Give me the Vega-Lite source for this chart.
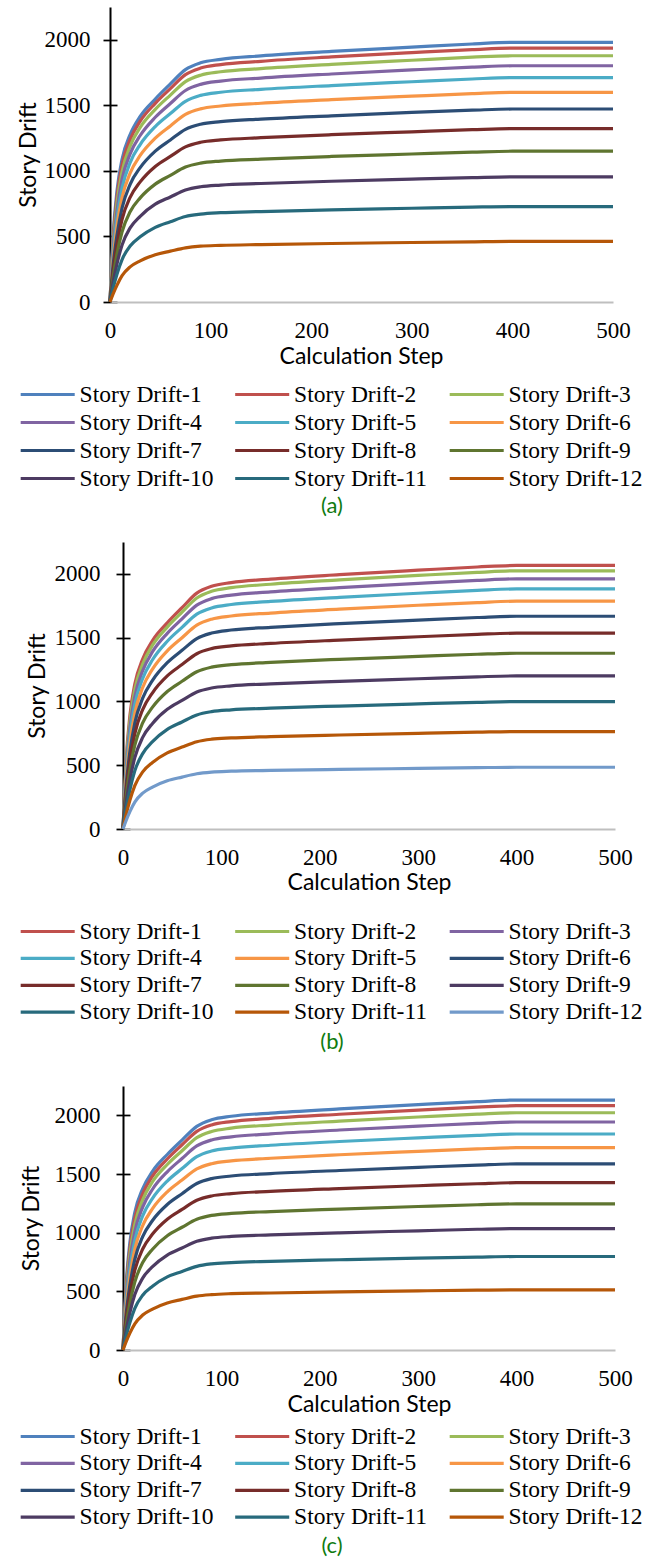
{
"$schema":"https://vega.github.io/schema/vega-lite/v6.json",
"background":"white",
"padding":{"left":16,"top":7,"right":0,"bottom":0},
"columns":1,
"align":"none",
"spacing":25,
"config":{
 "view":{"stroke":null},
 "axis":{"labelFont":"Liberation Serif","labelFontSize":23,"labelColor":"black","titleFont":"Lato","titleFontSize":23,"titleFontWeight":"normal","titleColor":"black","labelFlush":false,"labelOverlap":false},
 "legend":{"columns":3,"direction":"horizontal","symbolType":"M-2.5,0H2.5","symbolSize":467,"symbolStrokeWidth":4,"symbolOffset":14.2,"labelFont":"Liberation Serif","labelFontSize":23.5,"labelColor":"black","labelOffset":19.4,"columnPadding":14.5,"rowPadding":2,"gridAlign":"all","padding":5,"labelLimit":400,"title":null},
 "title":{"font":"Lato","fontSize":22,"fontWeight":"normal","color":"#0f7b0f","orient":"bottom","anchor":"middle","frame":"bounds","baseline":"top"},
 "line":{"interpolate":"monotone","strokeWidth":3.2}
},
"datasets":{
"a":[
{"s":1,"x":0,"y":0},{"s":1,"x":3,"y":495},{"s":1,"x":7,"y":851},{"s":1,"x":12,"y":1089},{"s":1,"x":20,"y":1277},{"s":1,"x":30,"y":1416},{"s":1,"x":45,"y":1548},{"s":1,"x":60,"y":1663},{"s":1,"x":75,"y":1772},{"s":1,"x":90,"y":1824},{"s":1,"x":110,"y":1851},{"s":1,"x":150,"y":1877},{"s":1,"x":220,"y":1911},{"s":1,"x":300,"y":1944},{"s":1,"x":360,"y":1968},{"s":1,"x":400,"y":1980},{"s":1,"x":500,"y":1980},
{"s":2,"x":0,"y":0},{"s":2,"x":3,"y":463},{"s":2,"x":7,"y":806},{"s":2,"x":12,"y":1046},{"s":2,"x":20,"y":1238},{"s":2,"x":30,"y":1379},{"s":2,"x":45,"y":1515},{"s":2,"x":60,"y":1627},{"s":2,"x":75,"y":1734},{"s":2,"x":90,"y":1784},{"s":2,"x":110,"y":1811},{"s":2,"x":150,"y":1836},{"s":2,"x":220,"y":1869},{"s":2,"x":300,"y":1902},{"s":2,"x":360,"y":1925},{"s":2,"x":400,"y":1937},{"s":2,"x":500,"y":1937},
{"s":3,"x":0,"y":0},{"s":3,"x":3,"y":428},{"s":3,"x":7,"y":757},{"s":3,"x":12,"y":993},{"s":3,"x":20,"y":1189},{"s":3,"x":30,"y":1332},{"s":3,"x":45,"y":1469},{"s":3,"x":60,"y":1578},{"s":3,"x":75,"y":1681},{"s":3,"x":90,"y":1730},{"s":3,"x":110,"y":1756},{"s":3,"x":150,"y":1780},{"s":3,"x":220,"y":1812},{"s":3,"x":300,"y":1844},{"s":3,"x":360,"y":1867},{"s":3,"x":400,"y":1878},{"s":3,"x":500,"y":1878},
{"s":4,"x":0,"y":0},{"s":4,"x":3,"y":391},{"s":4,"x":7,"y":701},{"s":4,"x":12,"y":935},{"s":4,"x":20,"y":1130},{"s":4,"x":30,"y":1270},{"s":4,"x":45,"y":1409},{"s":4,"x":60,"y":1514},{"s":4,"x":75,"y":1613},{"s":4,"x":90,"y":1660},{"s":4,"x":110,"y":1685},{"s":4,"x":150,"y":1708},{"s":4,"x":220,"y":1739},{"s":4,"x":300,"y":1770},{"s":4,"x":360,"y":1791},{"s":4,"x":400,"y":1802},{"s":4,"x":500,"y":1802},
{"s":5,"x":0,"y":0},{"s":5,"x":3,"y":352},{"s":5,"x":7,"y":642},{"s":5,"x":12,"y":869},{"s":5,"x":20,"y":1063},{"s":5,"x":30,"y":1201},{"s":5,"x":45,"y":1338},{"s":5,"x":60,"y":1437},{"s":5,"x":75,"y":1531},{"s":5,"x":90,"y":1576},{"s":5,"x":110,"y":1600},{"s":5,"x":150,"y":1622},{"s":5,"x":220,"y":1651},{"s":5,"x":300,"y":1680},{"s":5,"x":360,"y":1701},{"s":5,"x":400,"y":1711},{"s":5,"x":500,"y":1711},
{"s":6,"x":0,"y":0},{"s":6,"x":3,"y":312},{"s":6,"x":7,"y":579},{"s":6,"x":12,"y":796},{"s":6,"x":20,"y":983},{"s":6,"x":30,"y":1118},{"s":6,"x":45,"y":1250},{"s":6,"x":60,"y":1343},{"s":6,"x":75,"y":1431},{"s":6,"x":90,"y":1473},{"s":6,"x":110,"y":1495},{"s":6,"x":150,"y":1516},{"s":6,"x":220,"y":1543},{"s":6,"x":300,"y":1570},{"s":6,"x":360,"y":1589},{"s":6,"x":400,"y":1599},{"s":6,"x":500,"y":1599},
{"s":7,"x":0,"y":0},{"s":7,"x":3,"y":272},{"s":7,"x":7,"y":512},{"s":7,"x":12,"y":717},{"s":7,"x":20,"y":898},{"s":7,"x":30,"y":1025},{"s":7,"x":45,"y":1151},{"s":7,"x":60,"y":1236},{"s":7,"x":75,"y":1317},{"s":7,"x":90,"y":1356},{"s":7,"x":110,"y":1376},{"s":7,"x":150,"y":1395},{"s":7,"x":220,"y":1420},{"s":7,"x":300,"y":1446},{"s":7,"x":360,"y":1463},{"s":7,"x":400,"y":1472},{"s":7,"x":500,"y":1472},
{"s":8,"x":0,"y":0},{"s":8,"x":3,"y":230},{"s":8,"x":7,"y":443},{"s":8,"x":12,"y":631},{"s":8,"x":20,"y":798},{"s":8,"x":30,"y":916},{"s":8,"x":45,"y":1034},{"s":8,"x":60,"y":1110},{"s":8,"x":75,"y":1183},{"s":8,"x":90,"y":1218},{"s":8,"x":110,"y":1236},{"s":8,"x":150,"y":1253},{"s":8,"x":220,"y":1276},{"s":8,"x":300,"y":1298},{"s":8,"x":360,"y":1314},{"s":8,"x":400,"y":1322},{"s":8,"x":500,"y":1322},
{"s":9,"x":0,"y":0},{"s":9,"x":3,"y":187},{"s":9,"x":7,"y":369},{"s":9,"x":12,"y":536},{"s":9,"x":20,"y":688},{"s":9,"x":30,"y":794},{"s":9,"x":45,"y":899},{"s":9,"x":60,"y":966},{"s":9,"x":75,"y":1029},{"s":9,"x":90,"y":1059},{"s":9,"x":110,"y":1075},{"s":9,"x":150,"y":1090},{"s":9,"x":220,"y":1110},{"s":9,"x":300,"y":1129},{"s":9,"x":360,"y":1143},{"s":9,"x":400,"y":1150},{"s":9,"x":500,"y":1150},
{"s":10,"x":0,"y":0},{"s":10,"x":3,"y":145},{"s":10,"x":7,"y":293},{"s":10,"x":12,"y":435},{"s":10,"x":20,"y":565},{"s":10,"x":30,"y":654},{"s":10,"x":45,"y":746},{"s":10,"x":60,"y":801},{"s":10,"x":75,"y":854},{"s":10,"x":90,"y":879},{"s":10,"x":110,"y":892},{"s":10,"x":150,"y":904},{"s":10,"x":220,"y":921},{"s":10,"x":300,"y":937},{"s":10,"x":360,"y":948},{"s":10,"x":400,"y":954},{"s":10,"x":500,"y":954},
{"s":11,"x":0,"y":0},{"s":11,"x":3,"y":103},{"s":11,"x":7,"y":214},{"s":11,"x":12,"y":324},{"s":11,"x":20,"y":427},{"s":11,"x":30,"y":497},{"s":11,"x":45,"y":569},{"s":11,"x":60,"y":612},{"s":11,"x":75,"y":652},{"s":11,"x":90,"y":670},{"s":11,"x":110,"y":681},{"s":11,"x":150,"y":690},{"s":11,"x":220,"y":703},{"s":11,"x":300,"y":715},{"s":11,"x":360,"y":724},{"s":11,"x":400,"y":728},{"s":11,"x":500,"y":728},
{"s":12,"x":0,"y":0},{"s":12,"x":3,"y":60},{"s":12,"x":7,"y":129},{"s":12,"x":12,"y":201},{"s":12,"x":20,"y":268},{"s":12,"x":30,"y":314},{"s":12,"x":45,"y":361},{"s":12,"x":60,"y":388},{"s":12,"x":75,"y":413},{"s":12,"x":90,"y":426},{"s":12,"x":110,"y":432},{"s":12,"x":150,"y":438},{"s":12,"x":220,"y":446},{"s":12,"x":300,"y":454},{"s":12,"x":360,"y":459},{"s":12,"x":400,"y":462},{"s":12,"x":500,"y":462}
],
"b":[
{"s":1,"x":0,"y":0},{"s":1,"x":3,"y":517},{"s":1,"x":7,"y":888},{"s":1,"x":12,"y":1136},{"s":1,"x":20,"y":1333},{"s":1,"x":30,"y":1477},{"s":1,"x":45,"y":1616},{"s":1,"x":60,"y":1735},{"s":1,"x":75,"y":1849},{"s":1,"x":90,"y":1903},{"s":1,"x":110,"y":1932},{"s":1,"x":150,"y":1959},{"s":1,"x":220,"y":1994},{"s":1,"x":300,"y":2029},{"s":1,"x":360,"y":2054},{"s":1,"x":400,"y":2066},{"s":1,"x":500,"y":2066},
{"s":2,"x":0,"y":0},{"s":2,"x":3,"y":484},{"s":2,"x":7,"y":842},{"s":2,"x":12,"y":1093},{"s":2,"x":20,"y":1293},{"s":2,"x":30,"y":1441},{"s":2,"x":45,"y":1583},{"s":2,"x":60,"y":1700},{"s":2,"x":75,"y":1811},{"s":2,"x":90,"y":1864},{"s":2,"x":110,"y":1892},{"s":2,"x":150,"y":1919},{"s":2,"x":220,"y":1953},{"s":2,"x":300,"y":1988},{"s":2,"x":360,"y":2012},{"s":2,"x":400,"y":2024},{"s":2,"x":500,"y":2024},
{"s":3,"x":0,"y":0},{"s":3,"x":3,"y":447},{"s":3,"x":7,"y":790},{"s":3,"x":12,"y":1037},{"s":3,"x":20,"y":1241},{"s":3,"x":30,"y":1390},{"s":3,"x":45,"y":1534},{"s":3,"x":60,"y":1647},{"s":3,"x":75,"y":1755},{"s":3,"x":90,"y":1806},{"s":3,"x":110,"y":1834},{"s":3,"x":150,"y":1859},{"s":3,"x":220,"y":1892},{"s":3,"x":300,"y":1926},{"s":3,"x":360,"y":1949},{"s":3,"x":400,"y":1961},{"s":3,"x":500,"y":1961},
{"s":4,"x":0,"y":0},{"s":4,"x":3,"y":408},{"s":4,"x":7,"y":732},{"s":4,"x":12,"y":977},{"s":4,"x":20,"y":1180},{"s":4,"x":30,"y":1327},{"s":4,"x":45,"y":1472},{"s":4,"x":60,"y":1581},{"s":4,"x":75,"y":1684},{"s":4,"x":90,"y":1733},{"s":4,"x":110,"y":1760},{"s":4,"x":150,"y":1784},{"s":4,"x":220,"y":1816},{"s":4,"x":300,"y":1848},{"s":4,"x":360,"y":1871},{"s":4,"x":400,"y":1882},{"s":4,"x":500,"y":1882},
{"s":5,"x":0,"y":0},{"s":5,"x":3,"y":368},{"s":5,"x":7,"y":670},{"s":5,"x":12,"y":907},{"s":5,"x":20,"y":1109},{"s":5,"x":30,"y":1254},{"s":5,"x":45,"y":1397},{"s":5,"x":60,"y":1500},{"s":5,"x":75,"y":1598},{"s":5,"x":90,"y":1645},{"s":5,"x":110,"y":1670},{"s":5,"x":150,"y":1693},{"s":5,"x":220,"y":1723},{"s":5,"x":300,"y":1754},{"s":5,"x":360,"y":1775},{"s":5,"x":400,"y":1786},{"s":5,"x":500,"y":1786},
{"s":6,"x":0,"y":0},{"s":6,"x":3,"y":325},{"s":6,"x":7,"y":604},{"s":6,"x":12,"y":831},{"s":6,"x":20,"y":1026},{"s":6,"x":30,"y":1166},{"s":6,"x":45,"y":1304},{"s":6,"x":60,"y":1401},{"s":6,"x":75,"y":1493},{"s":6,"x":90,"y":1536},{"s":6,"x":110,"y":1560},{"s":6,"x":150,"y":1581},{"s":6,"x":220,"y":1610},{"s":6,"x":300,"y":1638},{"s":6,"x":360,"y":1658},{"s":6,"x":400,"y":1668},{"s":6,"x":500,"y":1668},
{"s":7,"x":0,"y":0},{"s":7,"x":3,"y":284},{"s":7,"x":7,"y":534},{"s":7,"x":12,"y":748},{"s":7,"x":20,"y":936},{"s":7,"x":30,"y":1068},{"s":7,"x":45,"y":1200},{"s":7,"x":60,"y":1289},{"s":7,"x":75,"y":1374},{"s":7,"x":90,"y":1414},{"s":7,"x":110,"y":1435},{"s":7,"x":150,"y":1455},{"s":7,"x":220,"y":1481},{"s":7,"x":300,"y":1507},{"s":7,"x":360,"y":1526},{"s":7,"x":400,"y":1535},{"s":7,"x":500,"y":1535},
{"s":8,"x":0,"y":0},{"s":8,"x":3,"y":240},{"s":8,"x":7,"y":462},{"s":8,"x":12,"y":657},{"s":8,"x":20,"y":832},{"s":8,"x":30,"y":955},{"s":8,"x":45,"y":1078},{"s":8,"x":60,"y":1158},{"s":8,"x":75,"y":1233},{"s":8,"x":90,"y":1269},{"s":8,"x":110,"y":1288},{"s":8,"x":150,"y":1306},{"s":8,"x":220,"y":1330},{"s":8,"x":300,"y":1353},{"s":8,"x":360,"y":1370},{"s":8,"x":400,"y":1378},{"s":8,"x":500,"y":1378},
{"s":9,"x":0,"y":0},{"s":9,"x":3,"y":196},{"s":9,"x":7,"y":385},{"s":9,"x":12,"y":559},{"s":9,"x":20,"y":718},{"s":9,"x":30,"y":828},{"s":9,"x":45,"y":938},{"s":9,"x":60,"y":1008},{"s":9,"x":75,"y":1074},{"s":9,"x":90,"y":1105},{"s":9,"x":110,"y":1122},{"s":9,"x":150,"y":1138},{"s":9,"x":220,"y":1158},{"s":9,"x":300,"y":1178},{"s":9,"x":360,"y":1193},{"s":9,"x":400,"y":1200},{"s":9,"x":500,"y":1200},
{"s":10,"x":0,"y":0},{"s":10,"x":3,"y":152},{"s":10,"x":7,"y":307},{"s":10,"x":12,"y":456},{"s":10,"x":20,"y":591},{"s":10,"x":30,"y":685},{"s":10,"x":45,"y":781},{"s":10,"x":60,"y":839},{"s":10,"x":75,"y":894},{"s":10,"x":90,"y":920},{"s":10,"x":110,"y":934},{"s":10,"x":150,"y":947},{"s":10,"x":220,"y":964},{"s":10,"x":300,"y":981},{"s":10,"x":360,"y":993},{"s":10,"x":400,"y":999},{"s":10,"x":500,"y":999},
{"s":11,"x":0,"y":0},{"s":11,"x":3,"y":108},{"s":11,"x":7,"y":225},{"s":11,"x":12,"y":340},{"s":11,"x":20,"y":448},{"s":11,"x":30,"y":522},{"s":11,"x":45,"y":597},{"s":11,"x":60,"y":642},{"s":11,"x":75,"y":684},{"s":11,"x":90,"y":704},{"s":11,"x":110,"y":714},{"s":11,"x":150,"y":724},{"s":11,"x":220,"y":737},{"s":11,"x":300,"y":750},{"s":11,"x":360,"y":759},{"s":11,"x":400,"y":764},{"s":11,"x":500,"y":764},
{"s":12,"x":0,"y":0},{"s":12,"x":3,"y":63},{"s":12,"x":7,"y":136},{"s":12,"x":12,"y":211},{"s":12,"x":20,"y":281},{"s":12,"x":30,"y":329},{"s":12,"x":45,"y":378},{"s":12,"x":60,"y":407},{"s":12,"x":75,"y":433},{"s":12,"x":90,"y":446},{"s":12,"x":110,"y":453},{"s":12,"x":150,"y":459},{"s":12,"x":220,"y":467},{"s":12,"x":300,"y":475},{"s":12,"x":360,"y":481},{"s":12,"x":400,"y":484},{"s":12,"x":500,"y":484}
],
"c":[
{"s":1,"x":0,"y":0},{"s":1,"x":3,"y":533},{"s":1,"x":7,"y":916},{"s":1,"x":12,"y":1172},{"s":1,"x":20,"y":1374},{"s":1,"x":30,"y":1523},{"s":1,"x":45,"y":1666},{"s":1,"x":60,"y":1789},{"s":1,"x":75,"y":1906},{"s":1,"x":90,"y":1962},{"s":1,"x":110,"y":1992},{"s":1,"x":150,"y":2019},{"s":1,"x":220,"y":2055},{"s":1,"x":300,"y":2092},{"s":1,"x":360,"y":2117},{"s":1,"x":400,"y":2130},{"s":1,"x":500,"y":2130},
{"s":2,"x":0,"y":0},{"s":2,"x":3,"y":498},{"s":2,"x":7,"y":866},{"s":2,"x":12,"y":1124},{"s":2,"x":20,"y":1330},{"s":2,"x":30,"y":1482},{"s":2,"x":45,"y":1628},{"s":2,"x":60,"y":1749},{"s":2,"x":75,"y":1863},{"s":2,"x":90,"y":1918},{"s":2,"x":110,"y":1947},{"s":2,"x":150,"y":1974},{"s":2,"x":220,"y":2009},{"s":2,"x":300,"y":2045},{"s":2,"x":360,"y":2070},{"s":2,"x":400,"y":2082},{"s":2,"x":500,"y":2082},
{"s":3,"x":0,"y":0},{"s":3,"x":3,"y":461},{"s":3,"x":7,"y":815},{"s":3,"x":12,"y":1070},{"s":3,"x":20,"y":1280},{"s":3,"x":30,"y":1434},{"s":3,"x":45,"y":1581},{"s":3,"x":60,"y":1698},{"s":3,"x":75,"y":1810},{"s":3,"x":90,"y":1862},{"s":3,"x":110,"y":1891},{"s":3,"x":150,"y":1917},{"s":3,"x":220,"y":1951},{"s":3,"x":300,"y":1986},{"s":3,"x":360,"y":2010},{"s":3,"x":400,"y":2022},{"s":3,"x":500,"y":2022},
{"s":4,"x":0,"y":0},{"s":4,"x":3,"y":422},{"s":4,"x":7,"y":756},{"s":4,"x":12,"y":1008},{"s":4,"x":20,"y":1218},{"s":4,"x":30,"y":1370},{"s":4,"x":45,"y":1519},{"s":4,"x":60,"y":1632},{"s":4,"x":75,"y":1739},{"s":4,"x":90,"y":1790},{"s":4,"x":110,"y":1817},{"s":4,"x":150,"y":1842},{"s":4,"x":220,"y":1875},{"s":4,"x":300,"y":1908},{"s":4,"x":360,"y":1931},{"s":4,"x":400,"y":1943},{"s":4,"x":500,"y":1943},
{"s":5,"x":0,"y":0},{"s":5,"x":3,"y":379},{"s":5,"x":7,"y":690},{"s":5,"x":12,"y":935},{"s":5,"x":20,"y":1143},{"s":5,"x":30,"y":1292},{"s":5,"x":45,"y":1440},{"s":5,"x":60,"y":1546},{"s":5,"x":75,"y":1648},{"s":5,"x":90,"y":1696},{"s":5,"x":110,"y":1721},{"s":5,"x":150,"y":1745},{"s":5,"x":220,"y":1777},{"s":5,"x":300,"y":1808},{"s":5,"x":360,"y":1830},{"s":5,"x":400,"y":1841},{"s":5,"x":500,"y":1841},
{"s":6,"x":0,"y":0},{"s":6,"x":3,"y":336},{"s":6,"x":7,"y":624},{"s":6,"x":12,"y":859},{"s":6,"x":20,"y":1060},{"s":6,"x":30,"y":1205},{"s":6,"x":45,"y":1348},{"s":6,"x":60,"y":1448},{"s":6,"x":75,"y":1543},{"s":6,"x":90,"y":1588},{"s":6,"x":110,"y":1612},{"s":6,"x":150,"y":1634},{"s":6,"x":220,"y":1664},{"s":6,"x":300,"y":1693},{"s":6,"x":360,"y":1714},{"s":6,"x":400,"y":1724},{"s":6,"x":500,"y":1724},
{"s":7,"x":0,"y":0},{"s":7,"x":3,"y":293},{"s":7,"x":7,"y":552},{"s":7,"x":12,"y":772},{"s":7,"x":20,"y":967},{"s":7,"x":30,"y":1104},{"s":7,"x":45,"y":1240},{"s":7,"x":60,"y":1332},{"s":7,"x":75,"y":1419},{"s":7,"x":90,"y":1461},{"s":7,"x":110,"y":1483},{"s":7,"x":150,"y":1504},{"s":7,"x":220,"y":1530},{"s":7,"x":300,"y":1557},{"s":7,"x":360,"y":1576},{"s":7,"x":400,"y":1586},{"s":7,"x":500,"y":1586},
{"s":8,"x":0,"y":0},{"s":8,"x":3,"y":248},{"s":8,"x":7,"y":478},{"s":8,"x":12,"y":680},{"s":8,"x":20,"y":861},{"s":8,"x":30,"y":988},{"s":8,"x":45,"y":1115},{"s":8,"x":60,"y":1198},{"s":8,"x":75,"y":1276},{"s":8,"x":90,"y":1313},{"s":8,"x":110,"y":1333},{"s":8,"x":150,"y":1352},{"s":8,"x":220,"y":1376},{"s":8,"x":300,"y":1400},{"s":8,"x":360,"y":1417},{"s":8,"x":400,"y":1426},{"s":8,"x":500,"y":1426},
{"s":9,"x":0,"y":0},{"s":9,"x":3,"y":203},{"s":9,"x":7,"y":400},{"s":9,"x":12,"y":580},{"s":9,"x":20,"y":745},{"s":9,"x":30,"y":859},{"s":9,"x":45,"y":974},{"s":9,"x":60,"y":1046},{"s":9,"x":75,"y":1114},{"s":9,"x":90,"y":1147},{"s":9,"x":110,"y":1164},{"s":9,"x":150,"y":1180},{"s":9,"x":220,"y":1201},{"s":9,"x":300,"y":1223},{"s":9,"x":360,"y":1238},{"s":9,"x":400,"y":1245},{"s":9,"x":500,"y":1245},
{"s":10,"x":0,"y":0},{"s":10,"x":3,"y":157},{"s":10,"x":7,"y":318},{"s":10,"x":12,"y":472},{"s":10,"x":20,"y":613},{"s":10,"x":30,"y":710},{"s":10,"x":45,"y":809},{"s":10,"x":60,"y":869},{"s":10,"x":75,"y":926},{"s":10,"x":90,"y":953},{"s":10,"x":110,"y":968},{"s":10,"x":150,"y":981},{"s":10,"x":220,"y":999},{"s":10,"x":300,"y":1016},{"s":10,"x":360,"y":1029},{"s":10,"x":400,"y":1035},{"s":10,"x":500,"y":1035},
{"s":11,"x":0,"y":0},{"s":11,"x":3,"y":112},{"s":11,"x":7,"y":234},{"s":11,"x":12,"y":355},{"s":11,"x":20,"y":467},{"s":11,"x":30,"y":544},{"s":11,"x":45,"y":623},{"s":11,"x":60,"y":669},{"s":11,"x":75,"y":713},{"s":11,"x":90,"y":734},{"s":11,"x":110,"y":745},{"s":11,"x":150,"y":756},{"s":11,"x":220,"y":769},{"s":11,"x":300,"y":783},{"s":11,"x":360,"y":792},{"s":11,"x":400,"y":797},{"s":11,"x":500,"y":797},
{"s":12,"x":0,"y":0},{"s":12,"x":3,"y":67},{"s":12,"x":7,"y":144},{"s":12,"x":12,"y":223},{"s":12,"x":20,"y":298},{"s":12,"x":30,"y":349},{"s":12,"x":45,"y":401},{"s":12,"x":60,"y":431},{"s":12,"x":75,"y":459},{"s":12,"x":90,"y":472},{"s":12,"x":110,"y":480},{"s":12,"x":150,"y":486},{"s":12,"x":220,"y":495},{"s":12,"x":300,"y":504},{"s":12,"x":360,"y":510},{"s":12,"x":400,"y":513},{"s":12,"x":500,"y":513}
]
},
"resolve":{"scale":{"color":"independent","x":"independent","y":"independent"},"legend":{"color":"independent"}},
"concat":[
{
 "width":490,"height":295,
 "data":{"name":"a"},
 "mark":{"type":"line"},
 "encoding":{
  "x":{"field":"x","type":"quantitative","scale":{"domain":[0,500],"nice":false,"zero":false,"range":[-13,490]},
   "axis":{"values":[0,100,200,300,400,500],"format":"d","title":"Calculation Step","titleX":238,"titleY":54,"titleBaseline":"middle","labelFont":"Liberation Serif","labelFontSize":23,"domainColor":"#bfbfbf","domainWidth":2,"ticks":false,"tickSize":0,"labelPadding":28,"labelBaseline":"middle","grid":false}},
  "y":{"field":"y","type":"quantitative","scale":{"domain":[0,2250],"nice":false},
   "axis":{"values":[0,500,1000,1500,2000],"format":"d","offset":13,"title":"Story Drift","titleX":-82,"titleBaseline":"middle","titleAnchor":"middle","labelFont":"Liberation Serif","labelFontSize":23,"domainColor":"black","domainWidth":2,"tickColor":"black","tickSize":7,"tickWidth":1.75,"labelPadding":13,"grid":true,"gridColor":"black","gridWidth":1.75,"gridDash":[7,3000]}},
  "color":{"field":"s","type":"nominal","scale":{"domain":[1,2,3,4,5,6,7,8,9,10,11,12],"range":["#4F81BD","#C0504D","#9BBB59","#8064A2","#4BACC6","#F79646","#2C4D75","#772C2A","#5F7530","#4D3B62","#276A7C","#B65708"]},
   "legend":{"orient":"none","direction":"horizontal","columns":3,"legendX":-107,"legendY":370,"rowPadding":4,"labelExpr":"'Story Drift-' + datum.label"}}
 },
 "title":{"text":"(a)","offset":1}
},
{
 "columns":1,
 "align":"none",
 "spacing":33,
 "resolve":{"scale":{"color":"independent","x":"independent","y":"independent"},"legend":{"color":"independent"}},
 "concat":[
 {
  "width":492,"height":287,
  "data":{"name":"b"},
  "mark":{"type":"line"},
  "encoding":{
   "x":{"field":"x","type":"quantitative","scale":{"domain":[0,500],"nice":false,"zero":false},
    "axis":{"values":[0,100,200,300,400,500],"format":"d","title":"Calculation Step","titleY":53,"titleBaseline":"middle","labelFont":"Liberation Serif","labelFontSize":23,"domainColor":"#bfbfbf","domainWidth":2,"ticks":false,"tickSize":0,"labelPadding":28,"labelBaseline":"middle","grid":false}},
   "y":{"field":"y","type":"quantitative","scale":{"domain":[0,2250],"nice":false},
    "axis":{"values":[0,500,1000,1500,2000],"format":"d","title":"Story Drift","titleX":-86,"titleBaseline":"middle","titleAnchor":"middle","labelFont":"Liberation Serif","labelFontSize":23,"domainColor":"black","domainWidth":2,"tickColor":"black","tickSize":7,"tickWidth":1.75,"labelPadding":16,"grid":true,"gridColor":"black","gridWidth":1.75,"gridDash":[7,3000]}},
   "color":{"field":"s","type":"nominal","scale":{"domain":[1,2,3,4,5,6,7,8,9,10,11,12],"range":["#C0504D","#9BBB59","#8064A2","#4BACC6","#F79646","#2C4D75","#772C2A","#5F7530","#4D3B62","#276A7C","#B65708","#729ACA"]},
    "legend":{"orient":"none","direction":"horizontal","columns":3,"legendX":-107,"legendY":372,"rowPadding":2.9,"labelExpr":"'Story Drift-' + datum.label"}}
  },
  "title":{"text":"(b)","offset":3}
 },
 {
  "width":492,"height":264,
  "data":{"name":"c"},
  "mark":{"type":"line"},
  "encoding":{
   "x":{"field":"x","type":"quantitative","scale":{"domain":[0,500],"nice":false,"zero":false},
    "axis":{"values":[0,100,200,300,400,500],"format":"d","title":"Calculation Step","titleY":54,"titleBaseline":"middle","labelFont":"Liberation Serif","labelFontSize":23,"domainColor":"#bfbfbf","domainWidth":2,"ticks":false,"tickSize":0,"labelPadding":28,"labelBaseline":"middle","grid":false}},
   "y":{"field":"y","type":"quantitative","scale":{"domain":[0,2250],"nice":false},
    "axis":{"values":[0,500,1000,1500,2000],"format":"d","title":"Story Drift","titleX":-92,"titleBaseline":"middle","titleAnchor":"middle","labelFont":"Liberation Serif","labelFontSize":23,"domainColor":"black","domainWidth":2,"tickColor":"black","tickSize":7,"tickWidth":1.75,"labelPadding":16,"grid":true,"gridColor":"black","gridWidth":1.75,"gridDash":[7,3000]}},
   "color":{"field":"s","type":"nominal","scale":{"domain":[1,2,3,4,5,6,7,8,9,10,11,12],"range":["#4F81BD","#C0504D","#9BBB59","#8064A2","#4BACC6","#F79646","#2C4D75","#772C2A","#5F7530","#4D3B62","#276A7C","#B65708"]},
    "legend":{"orient":"none","direction":"horizontal","columns":3,"legendX":-107,"legendY":333,"rowPadding":2.9,"labelExpr":"'Story Drift-' + datum.label"}}
  },
  "title":{"text":"(c)","offset":2}
 }
 ]
}
]
}
